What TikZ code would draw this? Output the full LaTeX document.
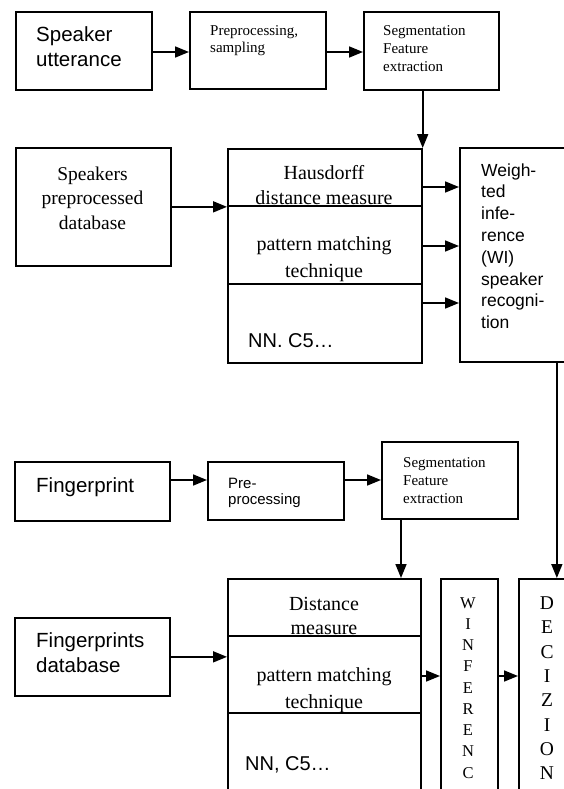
\documentclass[tikz,border=0pt]{standalone}
\usepackage{fontspec}
\setmainfont{Liberation Serif}
\newfontfamily\arialfont{Liberation Sans}
\usetikzlibrary{arrows.meta}

\begin{document}
\begin{tikzpicture}[x=1pt,y=-1pt,
  box/.style={draw, line width=1.7pt, inner sep=0pt, anchor=north west},
  link/.style={line width=1.7pt, -{Triangle[length=14pt,width=11pt]}},
  wire/.style={line width=1.7pt},
  sans/.style 2 args={font=\arialfont\fontsize{#1}{#2}\selectfont, inner sep=0pt},
  serif/.style 2 args={font=\fontsize{#1}{#2}\selectfont, inner sep=0pt}]

% page frame
\fill[white] (0,0) rectangle (564,789);
\useasboundingbox (0,0) rectangle (564,789);
\clip (0,0) rectangle (564,789);

% ---- speaker branch ----
\node[box, minimum width=136pt, minimum height=78pt]  (A) at (15,11)  {};
\node[box, minimum width=136pt, minimum height=77pt]  (B) at (189,11) {};
\node[box, minimum width=135pt, minimum height=78pt]  (C) at (363,11) {};
\node[box, minimum width=155pt, minimum height=118pt] (D) at (15,147) {};
\node[box, minimum width=194pt, minimum height=214pt] (E) at (227,148) {};
\node[box, minimum width=194pt, minimum height=214pt] (F) at (459,147) {};

% ---- fingerprint branch ----
\node[box, minimum width=155pt, minimum height=59pt]  (G) at (14,461)  {};
\node[box, minimum width=136pt, minimum height=58pt]  (H) at (207,461) {};
\node[box, minimum width=136pt, minimum height=77pt]  (I) at (381,441) {};
\node[box, minimum width=155pt, minimum height=78pt]  (M) at (14,617)  {};
\node[box, minimum width=193pt, minimum height=230pt] (J) at (227,578) {};
\node[box, minimum width=57pt,  minimum height=230pt] (K) at (440,578) {};
\node[box, minimum width=76pt,  minimum height=230pt] (L) at (518,578) {};

% helper levels
\coordinate (yAB) at (0,52);
\coordinate (dE1) at (0,206);
\coordinate (dE2) at (0,284);
\coordinate (r1)  at (0,187);
\coordinate (r2)  at (0,246);
\coordinate (r3)  at (0,303);
\coordinate (yGH) at (0,480);
\coordinate (xI)  at (401,0);
\coordinate (dJ1) at (0,636);
\coordinate (dJ2) at (0,713);
\coordinate (yJK) at (0,676);

% section dividers
\draw[wire] (E.west |- dE1) -- (E.east |- dE1);
\draw[wire] (E.west |- dE2) -- (E.east |- dE2);
\draw[wire] (J.west |- dJ1) -- (J.east |- dJ1);
\draw[wire] (J.west |- dJ2) -- (J.east |- dJ2);

% connectors
\draw[link] (A.east |- yAB) -- (B.west |- yAB);
\draw[link] (B.east |- yAB) -- (C.west |- yAB);
\draw[link] (C.south -| E.east) -- (E.north east);
\draw[link] (D.east) -- (D.east -| E.west);
\draw[link] (E.east |- r1) -- (F.west |- r1);
\draw[link] (E.east |- r2) -- (F.west |- r2);
\draw[link] (E.east |- r3) -- (F.west |- r3);
\draw[link] (F.south) -- (L.north);
\draw[link] (G.east |- yGH) -- (H.west |- yGH);
\draw[link] (H.east |- yGH) -- (I.west |- yGH);
\draw[link] (I.south -| xI) -- (J.north -| xI);
\draw[link] (M.east) -- (M.east -| J.west);
\draw[link] (J.east |- yJK) -- (K.west |- yJK);
\draw[link] (K.east |- yJK) -- (L.west |- yJK);

% labels (base anchor of a multi-line label sits on its last line)
\node[sans={20.5}{25}, anchor=base west, align=left] (tA) at (36,67) {Speaker\\utterance};
\node[serif={15}{17}, anchor=base west, align=left] (tB) at (210,53) {Preprocessing,\\sampling};
\node[serif={15}{18}, anchor=base west, align=left] (tC) at (383,72) {Segmentation\\Feature\\extraction};
\node[serif={19.5}{24.5}, anchor=base, align=center] (tD) at (92.5,229) {Speakers\\preprocessed\\database};
\node[serif={20}{25}, anchor=base, align=center] (tE1) at (324,204) {Hausdorff\\distance measure};
\node[serif={20}{27}, anchor=base, align=center] (tE2) at (324,277) {pattern matching\\technique};
\node[sans={20}{25}, anchor=base west] (tE3) at (248,347) {NN. C5\ldots};
\node[sans={17.5}{21.8}, anchor=base west, align=left] (tF) at (481,328.6)
  {Weigh-\\ted\\infe-\\rence\\(WI)\\speaker\\recogni-\\tion};

\node[sans={20.5}{25}, anchor=base west] (tG) at (36,492) {Fingerprint};
\node[sans={15}{16}, anchor=base west, align=left] (tH) at (228,504) {Pre-\\processing};
\node[serif={15}{18}, anchor=base west, align=left] (tI) at (403,503) {Segmentation\\Feature\\extraction};
\node[sans={20.5}{25}, anchor=base west, align=left] (tM) at (36,672) {Fingerprints\\database};
\node[serif={20}{24}, anchor=base, align=center] (tJ1) at (324,634) {Distance\\measure};
\node[serif={20}{27}, anchor=base, align=center] (tJ2) at (324,708) {pattern matching\\technique};
\node[sans={20}{25}, anchor=base west] (tJ3) at (245,770) {NN, C5\ldots};
\node[serif={16.5}{21.25}, anchor=base, align=center] (tK) at (468,778) {W\\I\\N\\F\\E\\R\\E\\N\\C};
\node[serif={19.5}{24.3}, anchor=base, align=center] (tL) at (547,779.6) {D\\E\\C\\I\\Z\\I\\O\\N};
\end{tikzpicture}
\end{document}
